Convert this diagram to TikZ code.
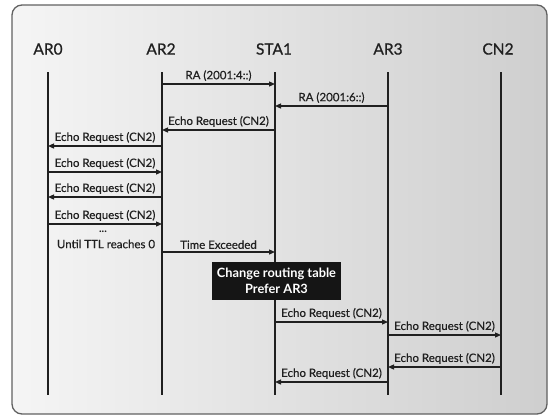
\documentclass[tikz,border=0pt]{standalone}
\usepackage{fontspec}
\setmainfont{Lato}
\newfontfamily\headfont[FakeBold=0.8]{Lato}
\newfontfamily\lblfont[FakeBold=0.4]{Lato}
\usetikzlibrary{arrows.meta}
\definecolor{ink}{HTML}{202020}
\definecolor{boxfill}{HTML}{151515}
\begin{document}
\begin{tikzpicture}[x=1pt,y=-1pt,
  life/.style={line width=1.6pt, draw=ink},
  msg/.style={line width=1.2pt, draw=ink, -{Triangle[length=6pt,width=5pt]}},
  lbl/.style={font=\lblfont\fontsize{11.5}{13}\selectfont, text=ink, inner sep=0pt, above=2.5pt},
  head/.style={font=\headfont\fontsize{15.5}{18}\selectfont, text=ink},
  notebox/.style={fill=boxfill, text=white, font=\bfseries\fontsize{12.8}{16.5}\selectfont,
    align=center, minimum width=129pt, minimum height=38pt, inner sep=0pt},
]
\useasboundingbox (0,0) rectangle (550,418);
\draw[rounded corners=10pt, line width=1.3pt, draw=black!62, left color=black!4, right color=black!19]
  (12,5) rectangle (547,414);

% heads
\node[head] (ar0) at (48,49) {AR0};
\node[head] (ar2) at (161,49) {AR2};
\node[head] (sta) at (274,49) {STA1};
\node[head] (ar3) at (388,49) {AR3};
\node[head] (cn2) at (498,49) {CN2};

% lifelines
\foreach \n/\x in {a/48, b/162, c/275, d/388, e/501}{
  \coordinate (\n t) at (\x,72);
  \coordinate (\n b) at (\x,395);
  \draw[life] (\n t) -- (\n b);
}

% messages
\draw[msg] (bt |- 0,84) -- node[lbl]{RA (2001:4::)} (ct |- 0,84);
\draw[msg] (dt |- 0,106) -- node[lbl]{RA (2001:6::)} (ct |- 0,106);
\draw[msg] (ct |- 0,130) -- node[lbl]{Echo Request (CN2)} (bt |- 0,130);
\draw[msg] (bt |- 0,146) -- node[lbl]{Echo Request (CN2)} (at |- 0,146);
\draw[msg] (at |- 0,172) -- node[lbl]{Echo Request (CN2)} (bt |- 0,172);
\draw[msg] (bt |- 0,197) -- node[lbl]{Echo Request (CN2)} (at |- 0,197);
\draw[msg] (at |- 0,224) -- node[lbl]{Echo Request (CN2)} (bt |- 0,224);
\node[font=\bfseries\fontsize{11}{12}\selectfont, text=ink] (dots) at (103,232) {...};
\node[font=\lblfont\fontsize{11.5}{13}\selectfont, text=ink] (ttl) at (106,244) {Until TTL reaches 0};
\draw[msg] (bt |- 0,252) -- node[lbl]{Time Exceeded} (ct |- 0,252);

\node[notebox] (chg) at (276.5,281) {Change routing table\\Prefer AR3};

\draw[msg] (ct |- 0,322) -- node[lbl]{Echo Request (CN2)} (dt |- 0,322);
\draw[msg] (dt |- 0,335) -- node[lbl]{Echo Request (CN2)} (et |- 0,335);
\draw[msg] (et |- 0,367) -- node[lbl]{Echo Request (CN2)} (dt |- 0,367);
\draw[msg] (dt |- 0,382) -- node[lbl]{Echo Request (CN2)} (ct |- 0,382);
\end{tikzpicture}
\end{document}
